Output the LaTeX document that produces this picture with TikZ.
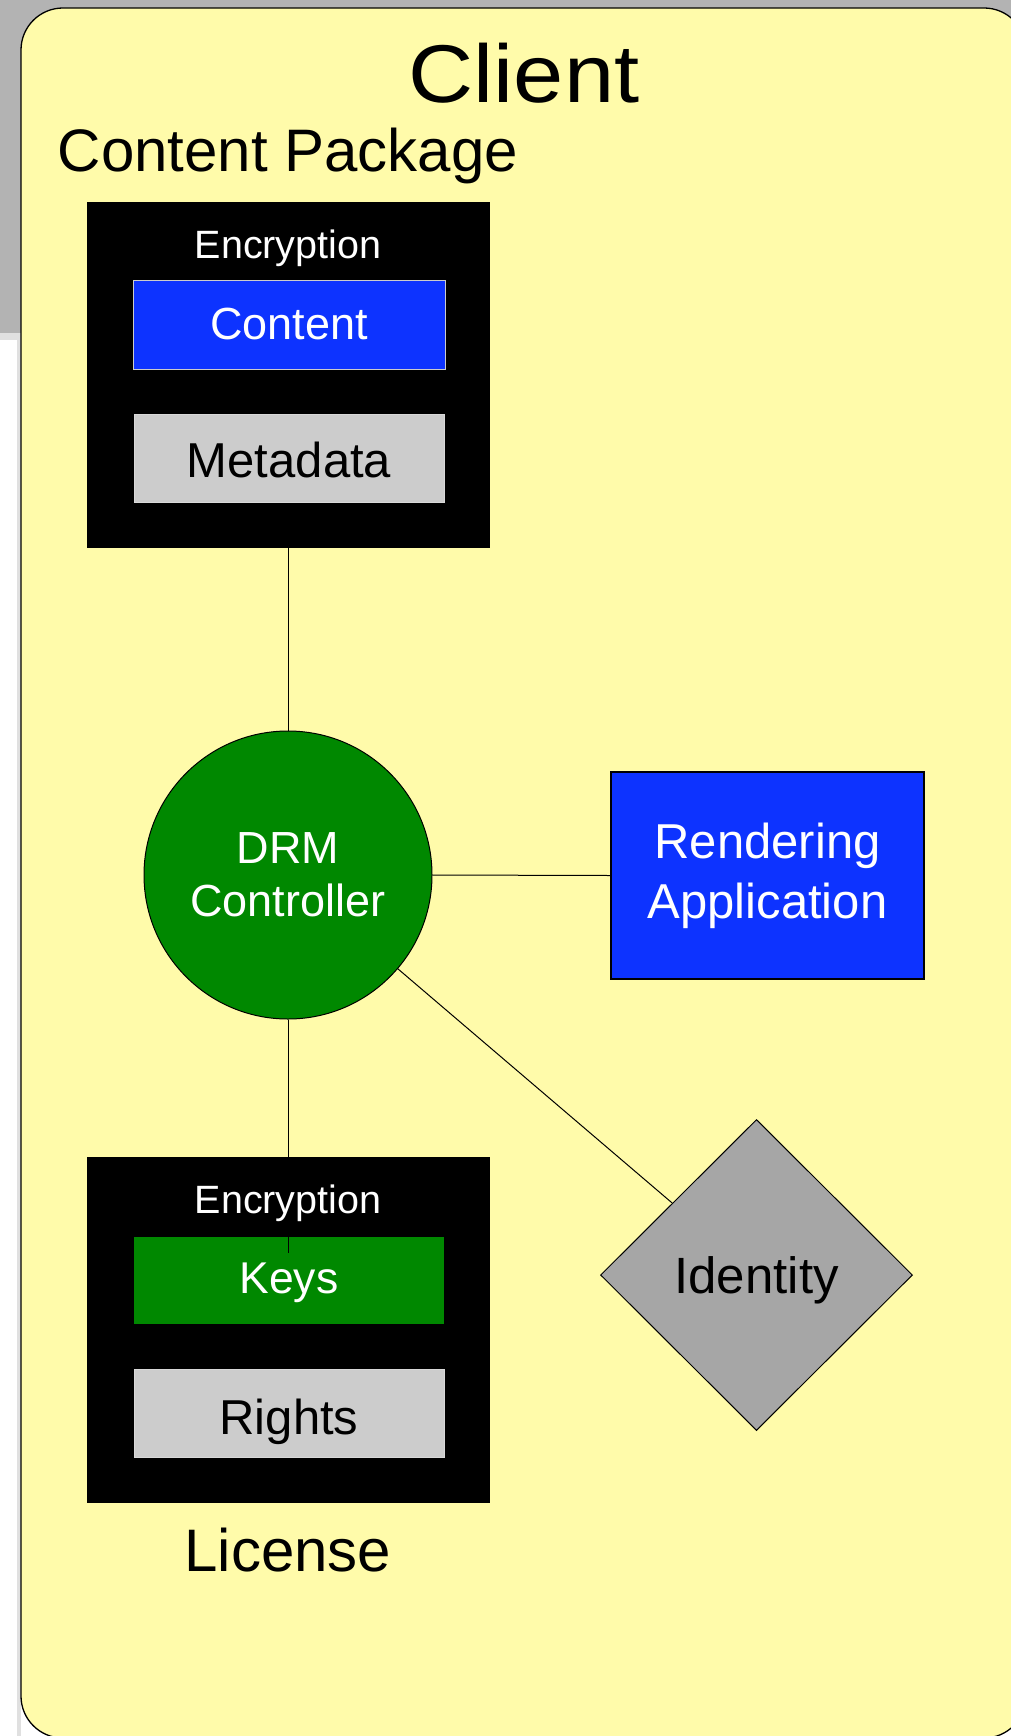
\documentclass[tikz,border=0pt]{standalone}
\usepackage{fontspec}
\setmainfont{Liberation Sans}
\usetikzlibrary{shapes.geometric}
\definecolor{bgyellow}{RGB}{255,251,170}
\definecolor{bggray}{RGB}{179,179,179}
\definecolor{bgline}{RGB}{224,224,224}
\definecolor{vblue}{RGB}{13,51,255}
\definecolor{vgreen}{RGB}{0,136,0}
\definecolor{lgray}{RGB}{204,204,204}
\definecolor{dgray}{RGB}{166,166,166}
\begin{document}
\begin{tikzpicture}[x=1pt,y=-1pt,
  conn/.style={draw=black,line width=1pt},
  pkgbox/.style={draw=black,fill=black,minimum width=402pt,minimum height=345pt,inner sep=0pt},
  bluebox/.style={fill=vblue,draw=white!80!black,line width=0.8pt,text=white,minimum width=312pt,minimum height=89pt,inner sep=0pt,font=\fontsize{45}{54}\selectfont},
  graybox/.style={fill=lgray,draw=white!85!black,line width=0.6pt,text=black,minimum width=310pt,minimum height=88pt,inner sep=0pt,font=\fontsize{49}{58}\selectfont},
  greenbox/.style={fill=vgreen,text=white,minimum width=310pt,minimum height=87pt,inner sep=0pt,font=\fontsize{44.5}{53}\selectfont},
  enclabel/.style={anchor=base,text=white,inner sep=0pt,font=\fontsize{39.5}{47}\selectfont},
  biglabel/.style={anchor=base,text=black,inner sep=0pt,font=\fontsize{60}{72}\selectfont}
]
\useasboundingbox (0,0) rectangle (1011,1736);
\fill[bggray] (0,0) rectangle (1011,333);
\fill[bgline] (0,333) rectangle (1011,340);
\fill[white] (0,340) rectangle (1011,1736);
\fill[black!12] (17,340) rectangle (21,1736);
\draw[fill=bgyellow,line width=1.3pt,rounded corners=42pt] (21,8) rectangle (1026,1738);

\node[anchor=base,inner sep=0pt,font=\fontsize{82}{96}\selectfont] (client) at (524,103) {\scalebox{1.1}[1]{Client}};
\node[biglabel] (pkglabel) at (288,172) {Content Package};

\node[pkgbox] (pkg) at (288,374.8) {};
\node[bluebox] (content) at (289,324.5) {Content};
\node[graybox,text height=38pt,text depth=0pt] (meta) at (289,458) {Metadata};

\node[circle,fill=vgreen,draw=black,line width=1pt,minimum size=288pt,inner sep=0pt,align=center,text=white,font=\fontsize{45}{53}\selectfont] (drm) at (288,875) {DRM\\Controller};

\node[fill=vblue,draw=black,line width=1.3pt,minimum width=313pt,minimum height=207pt,inner sep=0pt,align=center,text=white,font=\fontsize{49}{60}\selectfont] (rend) at (767.5,875.5) {Rendering\\Application};

\node[pkgbox] (lic) at (288,1330) {};
\node[greenbox,text height=25pt,text depth=0pt] (keys) at (289,1280.5) {Keys};
\node[graybox,text height=41pt,text depth=0pt] (rights) at (289,1413.5) {Rights};
\node[biglabel] (liclabel) at (288,1571) {License};

\node[diamond,fill=dgray,draw=black,line width=1pt,minimum width=312pt,minimum height=311pt,inner sep=0pt,text depth=0pt,font=\fontsize{51}{61}\selectfont] (ident) at (756.5,1275) {Identity};

\coordinate (keyend) at (288,1253);
\draw[conn] (pkg.south) -- (drm.north);
\draw[conn] (drm.south) -- (keyend);
\draw[conn] (drm.east) -- (rend.west);
\draw[conn] (drm) -- (ident);

\node[enclabel] (enc1) at (288,258.5) {Encryption};
\node[enclabel] (enc2) at (288,1213.3) {Encryption};
\end{tikzpicture}
\end{document}
